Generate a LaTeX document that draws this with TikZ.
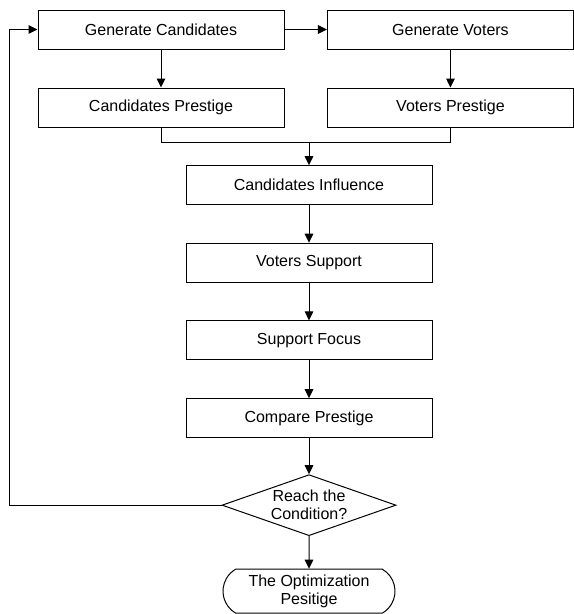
\documentclass[tikz,border=0pt]{standalone}
\usepackage{fontspec}
\setmainfont{Liberation Sans}
\usetikzlibrary{arrows.meta,calc,shapes,positioning}

\begin{document}
\begin{tikzpicture}[auto, node distance=58.5pt, >={Triangle[length=6.75pt,width=6.5pt]}, line width=0.75pt, font=\fontsize{12}{13.5}\selectfont]
        \tikzstyle{block} = [draw, rectangle, minimum height=29.25pt, minimum width=184.5pt]
        \tikzstyle{decision} = [draw, diamond, aspect=2.85, inner sep=0pt, minimum width=130.5pt, minimum height=45.75pt, align=center]
        \tikzstyle{term} = [draw, rounded rectangle, rounded rectangle arc length=120, minimum height=33pt, minimum width=131pt, inner sep=1pt, align=center]

        \useasboundingbox (0,0) rectangle (430.5pt,-460.5pt);

        \node [block] (gencand) at (120.75pt,-22.125pt) {Generate Candidates};
        \node [block, right of=gencand, node distance=217.1pt] (genvot) {Generate Voters};
        \node [block, below of=gencand] (candpres) {Candidates Prestige};
        \node [block, below of=genvot] (votpres) {Voters Prestige};
        \node [block, below of=candpres, node distance=58.2pt, xshift=111pt] (candinf) {Candidates Influence};
        \node [block, below of=candinf, node distance=58.2pt] (votsup) {Voters Support};
        \node [block, below of=votsup, node distance=58.2pt] (supfoc) {Support Focus};
        \node [block, below of=supfoc, node distance=58.4pt] (compres) {Compare Prestige};
        \node [decision, below of=compres, node distance=65.25pt] (reach) {Reach the\\Condition?};
        \node [term, below of=reach, node distance=64.5pt] (optim) {The Optimization\\Pesitige};
        \coordinate (join) at ($(candpres.south)+(0,-11pt)$);
        \coordinate (back) at (6.75pt,0);

        \draw [->] (gencand) -- (genvot);
        \draw [->] (gencand) -- (candpres);
        \draw [->] (genvot) -- (votpres);
        \draw (candpres.south) -- (join) -| (votpres.south);
        \draw [->] (join -| candinf.north) -- (candinf);
        \draw [->] (candinf) -- (votsup);
        \draw [->] (votsup) -- (supfoc);
        \draw [->] (supfoc) -- (compres);
        \draw [->] (compres) -- (reach);
        \draw [->] (reach) -- (optim);
        \draw [->] (reach.west) -- (reach.west -| back) |- (gencand.west);
    \end{tikzpicture}
\end{document}
